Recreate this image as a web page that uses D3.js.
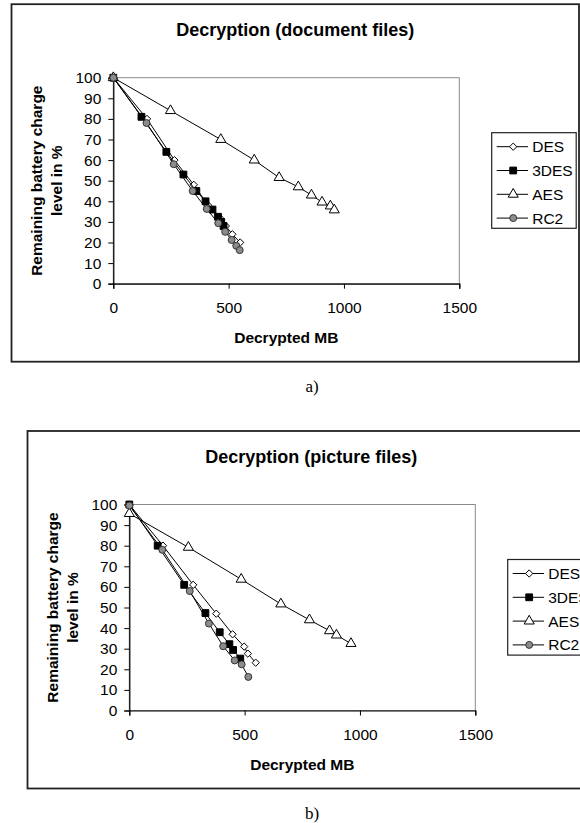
<!DOCTYPE html>
<html>
<head>
<meta charset="utf-8">
<script src="https://cdn.jsdelivr.net/npm/d3@7"></script>
<style>
  html, body { margin: 0; padding: 0; background: #fff; }
  svg { display: block; }
  text { font-family: "Liberation Sans", Arial, sans-serif; }
</style>
</head>
<body>
<div id="chart"></div>
<script>
// Data: [decrypted MB, remaining %]
const seriesNames = ['DES', '3DES', 'AES', 'RC2'];
const xTicks = [0, 500, 1000, 1500];
const yTicks = [0, 10, 20, 30, 40, 50, 60, 70, 80, 90, 100];

const docDES  = [[0, 100], [146, 80], [265, 60], [349, 48], [412, 38], [462, 32], [488, 28], [516, 24], [550, 20]];
const doc3DES = [[0, 100], [122, 81], [230, 64], [304, 53], [360, 45], [400, 40], [430, 36], [454, 32.5], [468, 30], [478, 28]];
const docAES  = [[0, 100], [248, 84], [466, 70], [611, 60], [719, 51.5], [802, 47], [859, 43], [905, 39.6], [941, 37.7], [958, 35.8]];
const docRC2  = [[0, 100], [144, 78], [262, 58], [344, 45], [405, 36.3], [455, 29.4], [485, 25.2], [513, 21.2], [533, 18.4], [548, 16.3]];

const picDES  = [[0, 100], [146, 80], [277, 61], [377, 47], [448, 37], [498, 31], [514, 27.6], [548, 23.2]];
const pic3DES = [[0, 100], [123, 80], [238, 61], [330, 47.3], [392, 38], [434, 32.2], [450, 29.4], [481, 25.2]];
const picAES  = [[0, 95.6], [256, 79.2], [485, 63.7], [657, 51.7], [781, 44], [868, 38.7], [898, 36.6], [961, 32.5]];
const picRC2  = [[0, 99.5], [143, 78], [262, 58], [345, 42.2], [407, 31.2], [457, 24.3], [487, 22.4], [516, 16.3]];

const titles = ['Decryption (document files)', 'Decryption (picture files)'];
const captions = ['a)', 'b)'];
const xLabel = 'Decrypted MB';
const yLabel = ['Remaining battery charge', 'level in %'];

// Setup
const W = 580, H = 823;
const plotW = 346, plotH = 206;

const svg = d3.select('#chart')
              .append('svg')
              .attr('width', W)
              .attr('height', H);

const x = d3.scaleLinear().domain([0, 1500]).range([0, plotW]);
const y = d3.scaleLinear().domain([0, 100]).range([plotH, 0]);

const line = d3.line()
               .x(d => x(d[0]))
               .y(d => y(d[1]));

// marker per series
const markerStyle = {
  'DES':  { type: d3.symbolDiamond2, size: 34, fill: '#fff', stroke: '#000' },
  '3DES': { type: d3.symbolSquare, size: 46, fill: '#000', stroke: '#000' },
  'AES':  { type: d3.symbolTriangle, size: 44, fill: '#fff', stroke: '#000' },
  'RC2':  { type: d3.symbolCircle, size: 38, fill: '#8c8c8c', stroke: '#333' },
};

function drawMarker(sel, name) {
  const m = markerStyle[name];
  sel.append('path')
     .attr('d', d3.symbol().type(m.type).size(m.size))
     .attr('fill', m.fill)
     .attr('stroke', m.stroke)
     .attr('stroke-width', 1);
}

const charts = [
  { left: 113.3, top: 77.7, data: [docDES, doc3DES, docAES, docRC2] },
  { left: 129.3, top: 504.5, data: [picDES, pic3DES, picAES, picRC2] },
];

charts.forEach((c, ci) => {
  // outer frame
  const box = { x: c.left - 101.8, y: c.top - 73.5, w: 567.5, h: 357.5 };
  svg.append('rect')
     .attr('x', box.x).attr('y', box.y)
     .attr('width', box.w).attr('height', box.h)
     .attr('fill', 'none')
     .attr('stroke', '#222')
     .attr('stroke-width', 1.8);

  svg.append('text')
     .attr('x', box.x + box.w / 2)
     .attr('y', c.top - 41.5)
     .attr('text-anchor', 'middle')
     .style('font-size', '18px')
     .style('font-weight', 'bold')
     .text(titles[ci]);

  const g = svg.append('g')
               .attr('transform', `translate(${c.left},${c.top})`);

  // plot area border (grey top / right)
  g.append('rect')
   .attr('width', plotW).attr('height', plotH)
   .attr('fill', 'none')
   .attr('stroke', '#8a8a8a')
   .attr('stroke-width', 1);

  const xAxis = g.append('g')
                 .attr('transform', `translate(0,${plotH})`)
                 .call(d3.axisBottom(x).tickValues(xTicks).tickFormat(d3.format('d'))
                         .tickSizeOuter(0).tickSize(5).tickPadding(13.5));
  const yAxis = g.append('g')
                 .call(d3.axisLeft(y).tickValues(yTicks).tickFormat(d3.format('d'))
                         .tickSizeOuter(0).tickSize(5).tickPadding(7));

  [xAxis, yAxis].forEach(a => {
    a.select('.domain').attr('stroke', '#000').attr('stroke-width', 1.2);
    a.selectAll('.tick line').attr('stroke', '#000');
    a.selectAll('.tick text')
     .attr('fill', '#000')
     .style('font-size', '15.5px')
     .style('font-family', '"Liberation Sans", Arial, sans-serif');
  });

  g.append('text')
   .attr('x', plotW / 2)
   .attr('y', plotH + 59.6)
   .attr('text-anchor', 'middle')
   .style('font-size', '15.5px')
   .style('font-weight', 'bold')
   .text(xLabel);

  yLabel.forEach((t, i) => {
    g.append('text')
     .attr('transform', `translate(${-77 + i * 20},${plotH / 2}) rotate(-90)`)
     .attr('dy', '0.36em')
     .attr('text-anchor', 'middle')
     .style('font-size', '15.5px')
     .style('font-weight', 'bold')
     .text(t);
  });

  // series: line then markers, drawn in legend order
  seriesNames.forEach((name, si) => {
    const s = g.append('g').attr('class', 'series');
    s.append('path')
     .datum(c.data[si])
     .attr('d', line)
     .attr('fill', 'none')
     .attr('stroke', '#000')
     .attr('stroke-width', 1);

    s.selectAll('.pt')
     .data(c.data[si])
     .enter()
     .append('g')
     .attr('class', 'pt')
     .attr('transform', d => `translate(${x(d[0])},${y(d[1])})`)
     .each(function () { drawMarker(d3.select(this), name); });
  });

  // legend
  const lg = svg.append('g')
                .attr('transform', `translate(${c.left + plotW + 32.4},${c.top + 55})`);
  lg.append('rect')
    .attr('width', 84.5).attr('height', 95.6)
    .attr('fill', '#fff')
    .attr('stroke', '#222')
    .attr('stroke-width', 1.2);

  seriesNames.forEach((name, i) => {
    const row = lg.append('g').attr('transform', `translate(0,${14 + i * 23.8})`);
    row.append('line')
       .attr('x1', 5).attr('x2', 36.3)
       .attr('stroke', '#000');
    const mk = row.append('g').attr('transform', 'translate(21.5,0)');
    drawMarker(mk, name);
    row.append('text')
       .attr('x', 40.5)
       .attr('dy', '0.36em')
       .style('font-size', '15.5px')
       .text(name);
  });

  // caption under the frame
  svg.append('text')
     .attr('x', 312)
     .attr('y', box.y + box.h + 30)
     .attr('text-anchor', 'middle')
     .style('font-family', '"Liberation Serif", "Times New Roman", serif')
     .style('font-size', '17px')
     .text(captions[ci]);
});
</script>
</body>
</html>
